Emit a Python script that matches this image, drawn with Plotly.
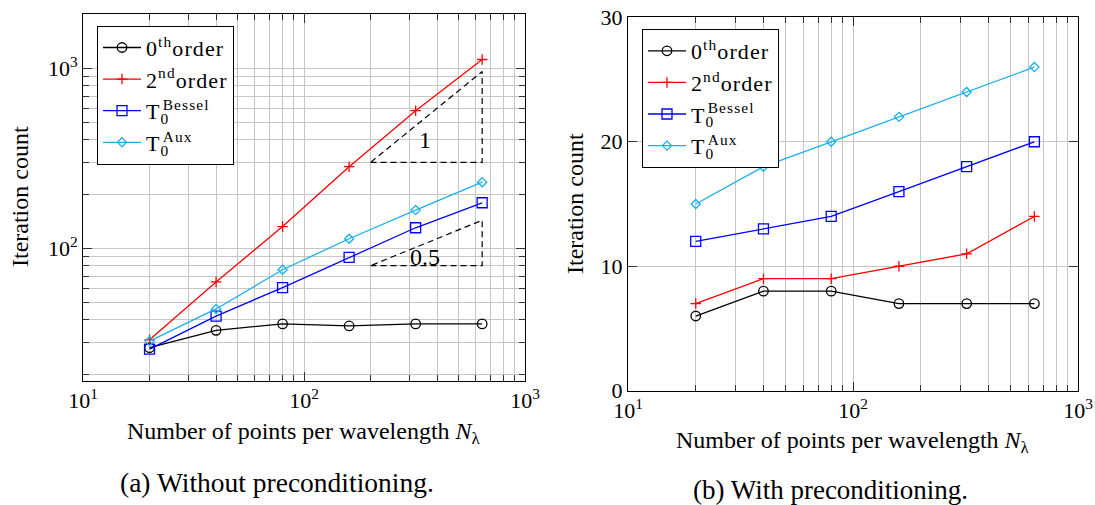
import math
import plotly.graph_objects as go

# ---------------- data ----------------
N_lambda = [20, 40, 80, 160, 320, 640]

# (a) without preconditioning
a_order0 = [28, 35, 38, 37, 38, 38]
a_order2 = [31, 65, 132, 284, 582, 1120]
a_bessel = [27.5, 42, 60.5, 89, 130, 179]
a_aux = [30.5, 46, 76, 113, 163, 233]

# (b) with preconditioning
b_order0 = [6, 8, 8, 7, 7, 7]
b_order2 = [7, 9, 9, 10, 11, 14]
b_bessel = [12, 13, 14, 16, 18, 20]
b_aux = [15, 18, 20, 22, 24, 26]

LS = "<span style='letter-spacing:1.1px'>{}</span>"
BACK = "<span style='letter-spacing:-0.55em'> </span>"
series_names = [
    LS.format("0<sup>th</sup>order"),
    LS.format("2<sup>nd</sup>order"),
    LS.format("T<sub>0</sub>" + BACK + "<sup>Bessel</sup>"),
    LS.format("T<sub>0</sub>" + BACK + "<sup>Aux</sup>"),
]

# slope triangles (panel a)
tri_x = [200, 640]
tri_base = [300, 80]
tri_slope = [1, 0.5]
tri_text = ["1", "0.5"]
tri_label_x = [352, 352]
tri_label_y = [400, 90]

x_ticks = [10, 100, 1000]
x_ticktext = ["10<sup>1</sup>", "10<sup>2</sup>", "10<sup>3</sup>"]
y_ticks_a = [100, 1000]
y_ticktext_a = ["10<sup>2</sup>", "10<sup>3</sup>"]
y_ticks_b = [0, 10, 20, 30]

# ---------------- style ----------------
FONT = "Times New Roman, Liberation Serif, DejaVu Serif, serif"
colors = ["#000000", "#ff0000", "#0000ff", "#1ab0ea"]
symbols = ["circle-open", "cross-thin-open", "square-open", "diamond-open"]
msizes = [9.5, 7.5, 10, 7]
W, H = 1095, 505
GRID = "#c6c6c6"

fig = go.Figure()

for data, xa, ya, leg in [
    ([a_order0, a_order2, a_bessel, a_aux], "x", "y", "legend"),
    ([b_order0, b_order2, b_bessel, b_aux], "x2", "y2", "legend2"),
]:
    for i, ys in enumerate(data):
        fig.add_trace(go.Scatter(
            x=N_lambda, y=ys, xaxis=xa, yaxis=ya, legend=leg,
            name=series_names[i], legendgroup=f"{leg}{i}",
            mode="lines+markers",
            line=dict(color=colors[i], width=1.3),
            marker=dict(symbol=symbols[i], size=msizes[i], color=colors[i],
                        line=dict(color=colors[i], width=1.3)),
        ))

for xs, b, s in zip([tri_x] * 2, tri_base, tri_slope):
    top = b * (xs[1] / xs[0]) ** s
    fig.add_trace(go.Scatter(
        x=[xs[0], xs[1], xs[1], xs[0]], y=[b, b, top, b],
        xaxis="x", yaxis="y", mode="lines", showlegend=False, hoverinfo="skip",
        line=dict(color="black", width=1.2, dash="6px,4px"),
    ))

annotations = []
for t, lx, ly in zip(tri_text, tri_label_x, tri_label_y):
    annotations.append(dict(x=math.log10(lx), y=math.log10(ly), xref="x", yref="y",
                            text=t, showarrow=False, font=dict(size=24, color="black")))


def paper(px, py):
    return px / W, 1 - py / H


for txt, (px, py), ang, size in [
    ("Number of points per wavelength <i>N</i><sub>λ</sub>", (304, 433), 0, 24),
    ("Number of points per wavelength <i>N</i><sub>λ</sub>", (853, 442), 0, 24),
    ("(a) Without preconditioning.", (277, 482), 0, 27.5),
    ("(b) With preconditioning.", (830, 490), 0, 27),
    ("Iteration count", (20, 197), -90, 24),
    ("Iteration count", (575, 204), -90, 24),
]:
    x, y = paper(px, py)
    annotations.append(dict(x=x, y=y, xref="paper", yref="paper", text=txt,
                            showarrow=False, textangle=ang, xanchor="center",
                            yanchor="middle", font=dict(size=size, color="black")))

minor_log_x = [m * d for d in (10, 100) for m in range(2, 10)]
minor_log_y = [m * d for d in (10, 100) for m in range(2, 10)]

common_axis = dict(showline=True, linecolor="black", linewidth=1, mirror="allticks",
                   ticks="inside", ticklen=9, tickcolor="#333333", tickwidth=1,
                   showgrid=True, gridcolor=GRID, gridwidth=1, zeroline=False,
                   automargin=False, tickfont=dict(size=22, color="black"))

log_x = dict(type="log", range=[1, 3], tickmode="array", tickvals=x_ticks, ticktext=x_ticktext,
             minor=dict(tickmode="array", tickvals=minor_log_x, ticks="inside", ticklen=6,
                        tickcolor="#333333", showgrid=True, gridcolor=GRID, gridwidth=1),
             **common_axis)

legend_style = dict(xanchor="left", yanchor="top", bgcolor="white", bordercolor="black",
                    borderwidth=1, font=dict(size=22), itemwidth=38, tracegroupgap=0)

fig.update_layout(
    template="none",
    width=W, height=H,
    margin=dict(l=0, r=0, t=0, b=0, pad=0),
    paper_bgcolor="white", plot_bgcolor="white",
    font=dict(family=FONT, size=23, color="black"),
    xaxis=dict(domain=[83 / W, 525 / W], anchor="y", **log_x),
    yaxis=dict(domain=[1 - 380.7 / H, 1 - 14 / H], anchor="x", type="log",
               range=[1.264, 3.302], tickmode="array", tickvals=y_ticks_a, ticktext=y_ticktext_a,
               minor=dict(tickmode="array", tickvals=minor_log_y, ticks="inside", ticklen=6,
                          tickcolor="#333333", showgrid=True, gridcolor=GRID, gridwidth=1),
               **common_axis),
    xaxis2=dict(domain=[628 / W, 1078 / W], anchor="y2", **log_x),
    yaxis2=dict(domain=[1 - 390.7 / H, 1 - 17.3 / H], anchor="x2", range=[0, 30],
                tickmode="array", tickvals=y_ticks_b, **common_axis),
    legend=dict(x=97 / W, y=1 - 25.7 / H, **legend_style),
    legend2=dict(x=642 / W, y=1 - 29 / H, **legend_style),
    annotations=annotations,
)

fig.write_html("out.html", config={"displayModeBar": False},
               post_script="document.body.style.margin='0';document.body.style.padding='0';")
